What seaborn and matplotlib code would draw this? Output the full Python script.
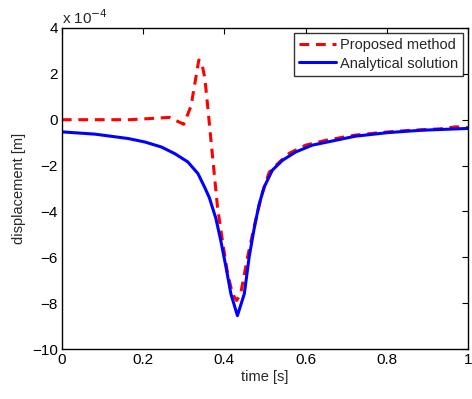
import matplotlib
matplotlib.use("Agg")
import matplotlib.pyplot as plt
import seaborn as sns
import pandas as pd

# values in units of 1e-4 m
t_prop = [0.0, 0.167, 0.265, 0.30, 0.318, 0.337, 0.344, 0.352, 0.359, 0.367, 0.375, 0.383,
          0.395, 0.408, 0.42, 0.43, 0.44, 0.457, 0.473, 0.493, 0.51, 0.535, 0.559, 0.6,
          0.649, 0.718, 0.79, 0.86, 0.93, 0.97, 1.0]
d_prop = [0.0, 0.0, 0.1, -0.2, 0.6, 2.6, 2.5, 1.8, 0.56, -0.9, -2.35, -3.8,
          -5.26, -6.72, -7.59, -7.88, -7.59, -5.99, -4.68, -3.2, -2.3, -1.85, -1.47, -1.11,
          -0.9, -0.68, -0.55, -0.46, -0.4, -0.31, -0.35]

t_anal = [0.0, 0.082, 0.163, 0.204, 0.245, 0.278, 0.31, 0.335, 0.351, 0.363, 0.379, 0.391,
          0.404, 0.416, 0.432, 0.449, 0.461, 0.473, 0.485, 0.498, 0.518, 0.543, 0.575,
          0.616, 0.665, 0.722, 0.804, 0.885, 1.0]
d_anal = [-0.53, -0.63, -0.82, -0.97, -1.19, -1.48, -1.84, -2.35, -2.93, -3.4, -4.3, -5.26,
          -6.43, -7.59, -8.54, -7.59, -5.98, -4.77, -3.72, -2.93, -2.2, -1.77, -1.41,
          -1.11, -0.93, -0.72, -0.56, -0.46, -0.38]

x_ticks = [0, 0.2, 0.4, 0.6, 0.8, 1]
x_ticklabels = ["0", "0.2", "0.4", "0.6", "0.8", "1"]
y_ticks = [-10, -8, -6, -4, -2, 0, 2, 4]

sns.set_theme(style="white")
plt.rcParams['font.family'] = ['Liberation Sans', 'DejaVu Sans']
plt.rcParams['axes.unicode_minus'] = True

fig = plt.figure(figsize=(4.72, 3.99), dpi=100)
ax = fig.add_axes([0.131, 0.125, 0.861, 0.805])

df_p = pd.DataFrame({"t": t_prop, "d": d_prop})
df_a = pd.DataFrame({"t": t_anal, "d": d_anal})

sns.lineplot(data=df_p, x="t", y="d", ax=ax, color="#ff0000", lw=2.2,
             linestyle=(0, (3.2, 2.2)), label="Proposed method", estimator=None, sort=False)
sns.lineplot(data=df_a, x="t", y="d", ax=ax, color="#0000ff", lw=2.2,
             label="Analytical solution", estimator=None, sort=False)

ax.set_xlim(0, 1)
ax.set_ylim(-10, 4)
ax.set_xticks(x_ticks)
ax.set_xticklabels(x_ticklabels)
ax.set_yticks(y_ticks)
ax.set_xlabel("time [s]", fontsize=10.5, labelpad=2)
ax.set_ylabel("displacement [m]", fontsize=10.5, labelpad=4)
ax.tick_params(direction="in", length=4, width=0.8, top=True, right=True,
               labelsize=11, colors="black", pad=3)
for s in ax.spines.values():
    s.set_color("black")
    s.set_linewidth(1.0)

ax.text(0.0, 1.004, r"x 10$^{-4}$", transform=ax.transAxes, fontsize=11, ha="left", va="bottom")

leg = ax.legend(loc="upper right", fontsize=10.5, frameon=True, fancybox=False,
                edgecolor="black", borderpad=0.35, handlelength=2.5, labelspacing=0.3,
                handletextpad=0.3, borderaxespad=0.35)
leg.get_frame().set_linewidth(1.0)

fig.savefig("out.png", dpi=100, facecolor="white")
